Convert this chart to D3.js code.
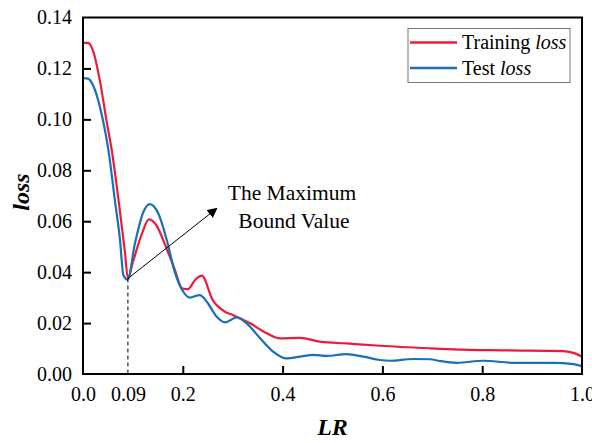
<!DOCTYPE html>
<html>
<head>
<meta charset="utf-8">
<script src="https://cdn.jsdelivr.net/npm/d3@7"></script>
<style>
  html, body { margin: 0; padding: 0; background: #fff; }
  svg { display: block; font-family: 'Liberation Serif', 'Times New Roman', serif; }
</style>
</head>
<body>
<div id="chart"></div>
<script>
(() => {
  // Data
  const trainLR = [0, 0.01, 0.02, 0.034, 0.047, 0.0575, 0.074, 0.084, 0.09, 0.1, 0.118, 0.132, 0.145, 0.168, 0.184, 0.198, 0.21, 0.225, 0.238, 0.26, 0.285, 0.301, 0.335, 0.368, 0.395, 0.435, 0.475, 0.528, 0.595, 0.695, 0.742, 0.842, 0.9625, 0.986, 1.0];
  const trainLoss = [0.130, 0.130, 0.127, 0.115, 0.0996, 0.088, 0.064, 0.048, 0.0375, 0.044, 0.055, 0.0607, 0.059, 0.049, 0.041, 0.0337, 0.0333, 0.037, 0.0386, 0.029, 0.0244, 0.0231, 0.0199, 0.016, 0.014, 0.0142, 0.0127, 0.012, 0.0111, 0.0101, 0.0097, 0.0093, 0.009, 0.0081, 0.0068];

  const testLR = [0, 0.01, 0.021, 0.034, 0.044, 0.051, 0.064, 0.074, 0.081, 0.0895, 0.104, 0.121, 0.134, 0.151, 0.168, 0.184, 0.201, 0.214, 0.234, 0.248, 0.268, 0.285, 0.308, 0.328, 0.355, 0.381, 0.408, 0.435, 0.462, 0.488, 0.528, 0.562, 0.595, 0.615, 0.662, 0.695, 0.715, 0.749, 0.802, 0.862, 0.943, 0.983, 1.0];
  const testLoss = [0.1162, 0.116, 0.113, 0.1048, 0.0957, 0.0878, 0.068, 0.053, 0.0388, 0.0371, 0.0512, 0.0636, 0.0667, 0.063, 0.0525, 0.040, 0.0323, 0.030, 0.031, 0.0284, 0.0225, 0.0203, 0.0222, 0.0199, 0.014, 0.0088, 0.0061, 0.0068, 0.0075, 0.0071, 0.0078, 0.0068, 0.0055, 0.0052, 0.0059, 0.0058, 0.0051, 0.0044, 0.0052, 0.0044, 0.0044, 0.0039, 0.0031];

  const xTicks = [0, 0.09, 0.2, 0.4, 0.6, 0.8, 1.0];
  const xTickLabels = ['0.0', '0.09', '0.2', '0.4', '0.6', '0.8', '1.0'];
  const yTicks = [0, 0.02, 0.04, 0.06, 0.08, 0.10, 0.12, 0.14];

  const bound = { lr: 0.09, loss: 0.0375 };
  const arrowTip = { lr: 0.268, loss: 0.065 };

  // Constants
  const WIDTH = 592;
  const HEIGHT = 443;
  const margin = { top: 17.5, right: 10, bottom: 69, left: 83 };
  const RED = '#ee1a3c';
  const BLUE = '#1a6fb5';

  const x = d3.scaleLinear().domain([0, 1]).range([margin.left, WIDTH - margin.right]);
  const y = d3.scaleLinear().domain([0, 0.14]).range([HEIGHT - margin.bottom, margin.top]);

  const svg = d3.select('#chart')
    .append('svg')
    .attr('width', WIDTH)
    .attr('height', HEIGHT)
    .attr('viewBox', `0 0 ${WIDTH} ${HEIGHT}`);

  svg.append('defs')
    .append('marker')
    .attr('id', 'arrow')
    .attr('viewBox', '0 0 10 10')
    .attr('refX', 9)
    .attr('refY', 5)
    .attr('markerWidth', 10)
    .attr('markerHeight', 10)
    .attr('markerUnits', 'userSpaceOnUse')
    .attr('orient', 'auto')
    .append('path')
    .attr('d', 'M0,0 L10,5 L0,10 Z')
    .attr('fill', '#000');

  // Axes (ticks pointing inward)
  const xAxis = svg.append('g')
    .attr('transform', `translate(0,${y(0)})`)
    .call(d3.axisBottom(x)
      .tickValues(xTicks)
      .tickFormat((d, i) => xTickLabels[i])
      .tickSizeInner(-8)
      .tickSizeOuter(0)
      .tickPadding(13));
  xAxis.select('.domain').remove();
  xAxis.selectAll('.tick line')
    .attr('stroke-width', 2)
    .attr('display', (d) => (d === 0 || d === 0.09 || d === 1 ? 'none' : null));
  xAxis.selectAll('.tick text')
    .attr('font-size', 20)
    .attr('font-family', 'Liberation Serif, serif')
    .attr('fill', '#000');

  const yAxis = svg.append('g')
    .attr('transform', `translate(${x(0)},0)`)
    .call(d3.axisLeft(y)
      .tickValues(yTicks)
      .tickFormat(d3.format('.2f'))
      .tickSizeInner(-8)
      .tickSizeOuter(0)
      .tickPadding(11));
  yAxis.select('.domain').remove();
  yAxis.selectAll('.tick line')
    .attr('stroke-width', 2)
    .attr('display', (d) => (d === 0 || d === 0.14 ? 'none' : null));
  yAxis.selectAll('.tick text')
    .attr('font-size', 20)
    .attr('font-family', 'Liberation Serif, serif')
    .attr('fill', '#000');

  // Lines
  const line = d3.line()
    .x((d) => x(d[0]))
    .y((d) => y(d[1]))
    .curve(d3.curveMonotoneX);

  svg.append('path')
    .datum(d3.zip(trainLR, trainLoss))
    .attr('fill', 'none')
    .attr('stroke', RED)
    .attr('stroke-width', 2.2)
    .attr('stroke-linejoin', 'round')
    .attr('d', line);

  svg.append('path')
    .datum(d3.zip(testLR, testLoss))
    .attr('fill', 'none')
    .attr('stroke', BLUE)
    .attr('stroke-width', 2.2)
    .attr('stroke-linejoin', 'round')
    .attr('d', line);

  // Annotation
  svg.append('line')
    .attr('x1', x(bound.lr))
    .attr('x2', x(bound.lr))
    .attr('y1', y(bound.loss))
    .attr('y2', y(0))
    .attr('stroke', '#000')
    .attr('stroke-width', 1)
    .attr('stroke-dasharray', '4,3');

  svg.append('line')
    .attr('x1', x(bound.lr))
    .attr('y1', y(bound.loss))
    .attr('x2', x(arrowTip.lr))
    .attr('y2', y(arrowTip.loss))
    .attr('stroke', '#000')
    .attr('stroke-width', 1)
    .attr('marker-end', 'url(#arrow)');

  const note = svg.append('text')
    .attr('text-anchor', 'middle')
    .attr('font-size', 21.5)
    .attr('fill', '#000');
  note.append('tspan').attr('x', 292).attr('y', 200).text('The Maximum');
  note.append('tspan').attr('x', 294).attr('y', 228).text('Bound Value');

  // Frame
  svg.append('rect')
    .attr('x', x(0))
    .attr('y', y(0.14))
    .attr('width', x(1) - x(0))
    .attr('height', y(0) - y(0.14))
    .attr('fill', 'none')
    .attr('stroke', '#000')
    .attr('stroke-width', 2);

  // Axis titles
  svg.append('text')
    .attr('x', x(0.5))
    .attr('y', 435)
    .attr('text-anchor', 'middle')
    .attr('font-size', 24)
    .attr('font-weight', 'bold')
    .attr('font-style', 'italic')
    .text('LR');

  svg.append('text')
    .attr('transform', 'translate(29,192) rotate(-90)')
    .attr('text-anchor', 'middle')
    .attr('font-size', 24)
    .attr('font-weight', 'bold')
    .attr('font-style', 'italic')
    .text('loss');

  // Legend
  const legend = svg.append('g').attr('transform', 'translate(408,28.5)');
  legend.append('rect')
    .attr('width', 162)
    .attr('height', 54)
    .attr('fill', '#fff')
    .attr('stroke', '#777')
    .attr('stroke-width', 1);

  const legendItems = [
    { color: RED, label: 'Training ' },
    { color: BLUE, label: 'Test ' },
  ];
  legendItems.forEach((item, i) => {
    const cy = 14 + i * 25.5;
    legend.append('line')
      .attr('x1', 2)
      .attr('x2', 49)
      .attr('y1', cy)
      .attr('y2', cy)
      .attr('stroke', item.color)
      .attr('stroke-width', 2.5);
    const t = legend.append('text')
      .attr('x', 54)
      .attr('y', cy + 6.5)
      .attr('font-size', 20)
      .attr('fill', '#000');
    t.append('tspan').text(item.label);
    t.append('tspan').attr('font-style', 'italic').text('loss');
  });
})();
</script>
</body>
</html>
